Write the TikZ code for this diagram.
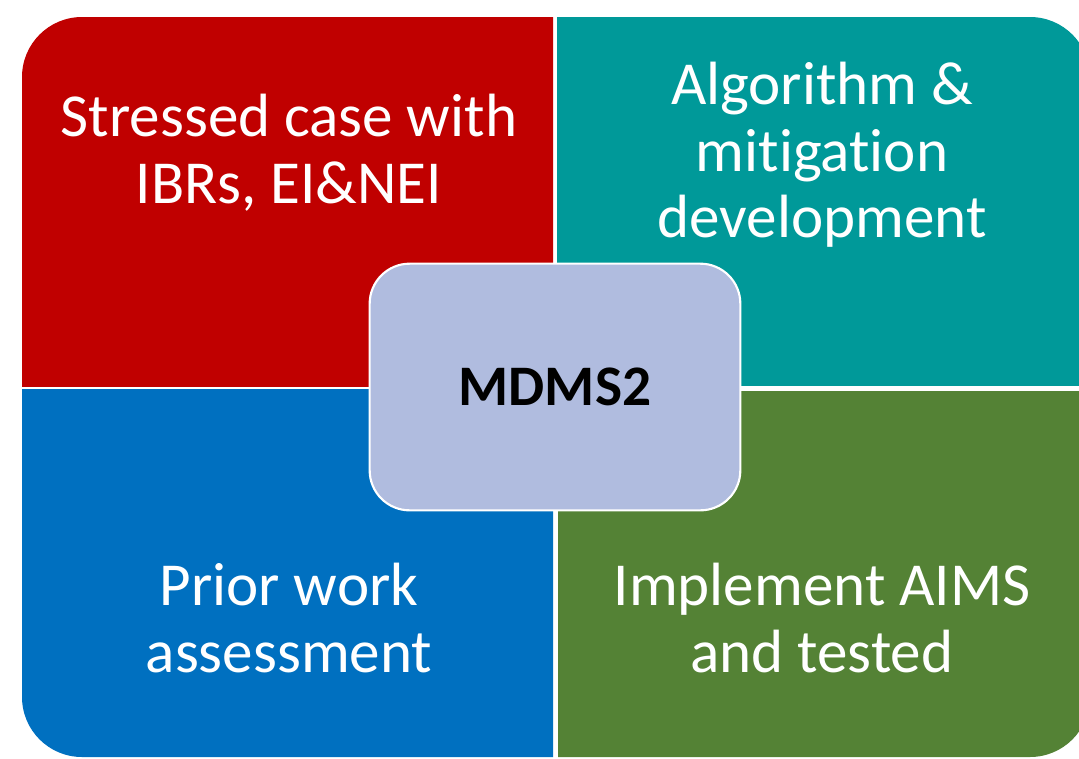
\documentclass[tikz,border=0pt]{standalone}
\usepackage{fontspec}
\setmainfont{Carlito}[Ligatures=NoCommon]
\usepackage{tikz}

\definecolor{quadred}{RGB}{192,0,0}
\definecolor{quadteal}{RGB}{0,153,153}
\definecolor{quadblue}{RGB}{0,112,192}
\definecolor{quadgreen}{RGB}{84,130,53}
\definecolor{hubfill}{RGB}{176,188,223}

\begin{document}
\begin{tikzpicture}[x=0.75pt, y=-0.75pt,
	quadtext/.style={text=white, align=center, font=\fontsize{45.8}{50}\selectfont},
	hub/.style={fill=hubfill, draw=white, line width=1.6pt, rounded corners=30pt,
	  minimum width=278pt, minimum height=185pt, font=\fontsize{43}{48}\selectfont\bfseries}]
	\clip (0,0) rectangle (1079,758);
	\begin{scope}
	  \clip (22,17) rectangle (553,386);
	  \fill[quadred, rounded corners=45pt] (22,17) rectangle (1090,757);
	\end{scope}
	\begin{scope}
	  \clip (557,17) rectangle (1090,385);
	  \fill[quadteal, rounded corners=45pt] (22,17) rectangle (1090,757);
	\end{scope}
	\begin{scope}
	  \clip (22,389) rectangle (553,757);
	  \fill[quadblue, rounded corners=45pt] (22,17) rectangle (1090,757);
	\end{scope}
	\begin{scope}
	  \clip (558,391) rectangle (1090,757);
	  \fill[quadgreen, rounded corners=45pt] (22,17) rectangle (1090,757);
	\end{scope}
	\node[quadtext] (stressed) at (289,153) {Stressed case with\\IBRs, EI\&NEI};
	\node[quadtext] (algorithm) at (822,155) {Algorithm \&\\mitigation\\development};
	\node[quadtext] (prior) at (289,618) {Prior work\\assessment};
	\node[quadtext] (implement) at (822,618) {Implement AIMS\\and tested};
	\node[hub] (mdms) at (555,387) {MDMS2};
\end{tikzpicture}
\end{document}
